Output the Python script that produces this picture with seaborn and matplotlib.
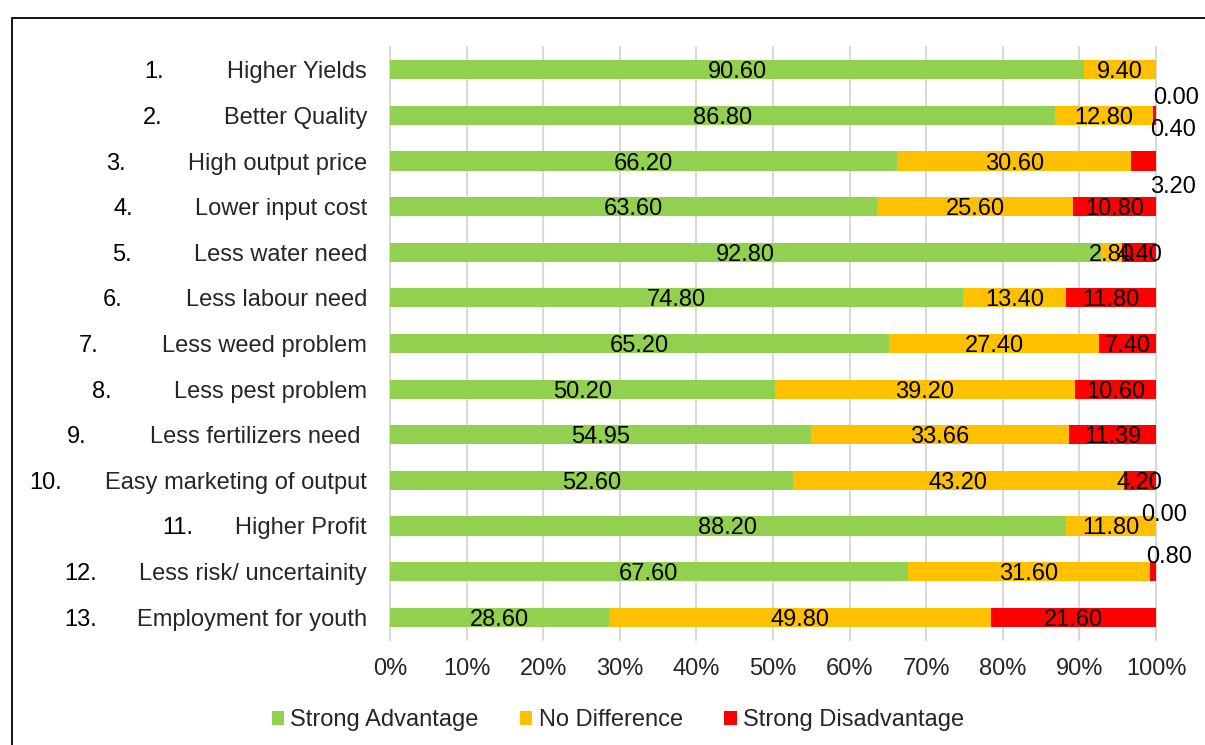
import numpy as np
import pandas as pd
import matplotlib
matplotlib.use("Agg")
import matplotlib.pyplot as plt
import matplotlib.transforms as mtransforms
from matplotlib.patches import Rectangle, Patch
import seaborn as sns

# ---------------- data ----------------
numbers = ["1.", "2.", "3.", "4.", "5.", "6.", "7.", "8.", "9.", "10.", "11.", "12.", "13."]
categories = ["Higher Yields", "Better Quality", "High output price", "Lower input cost",
              "Less water need", "Less labour need", "Less weed problem", "Less pest problem",
              "Less fertilizers need ", "Easy marketing of output", "Higher Profit",
              "Less risk/ uncertainity", "Employment for youth"]
strong_adv = [90.60, 86.80, 66.20, 63.60, 92.80, 74.80, 65.20, 50.20, 54.95, 52.60, 88.20, 67.60, 28.60]
no_diff = [9.40, 12.80, 30.60, 25.60, 2.80, 13.40, 27.40, 39.20, 33.66, 43.20, 11.80, 31.60, 49.80]
strong_dis = [0.00, 0.40, 3.20, 10.80, 4.40, 11.80, 7.40, 10.60, 11.39, 4.20, 0.00, 0.80, 21.60]
series_names = ["Strong Advantage", "No Difference", "Strong Disadvantage"]
tick_values = [0, 10, 20, 30, 40, 50, 60, 70, 80, 90, 100]
tick_labels = ["0%", "10%", "20%", "30%", "40%", "50%", "60%", "70%", "80%", "90%", "100%"]

# ---------------- layout / style ----------------
COLORS = ["#92D050", "#FFC000", "#FF0000"]
FS = 17
W, H = 1205, 745
NUM_RIGHT_PX = [164, 163, 126, 133, 132, 123, 99, 112, 87, 62, 193, 97, 97]
# offsets (px: dx right of 100%, dy down) for labels placed outside the bar
OUTSIDE = {0: (20.5, 26), 1: (17.5, 12.5), 2: (17, 23.6), 10: (8.5, -13), 11: (13.5, -17)}

sns.set_theme(style="white")
plt.rcParams['font.family'] = ['Liberation Sans', 'DejaVu Sans']

fig = plt.figure(figsize=(W / 100, H / 100), dpi=100)
ax = fig.add_axes([390 / W, 1 - 640 / H, (1156 - 390) / W, (640 - 47) / H])

df = pd.DataFrame({"cat": categories, "adv": strong_adv, "nd": no_diff, "dis": strong_dis})
df["c1"] = df["adv"]
df["c2"] = df["adv"] + df["nd"]
df["c3"] = df["adv"] + df["nd"] + df["dis"]

for col, color in zip(["c3", "c2", "c1"], COLORS[::-1]):
    sns.barplot(data=df, x=col, y="cat", order=categories, color=color, saturation=1,
                orient="h", width=0.42, ax=ax, errorbar=None, linewidth=0)

ax.set_xlim(0, 100)
ax.set_ylim(12.5, -0.5)
ax.set_xlabel("")
ax.set_ylabel("")
ax.set_xticks(tick_values)
ax.set_xticklabels(tick_labels, fontsize=FS)
ax.set_yticks(range(len(categories)))
ax.set_yticklabels(categories, fontsize=FS)
ax.tick_params(axis="x", length=0, pad=13)
ax.tick_params(axis="y", length=0, pad=16.5)
for s in ax.spines.values():
    s.set_visible(False)
ax.set_axisbelow(True)
ax.xaxis.grid(True, color="#D9D9D9", linewidth=1.5)
ax.yaxis.grid(False)
for gl in ax.xaxis.get_gridlines():
    gl.set_clip_on(False)

# item numbers
trans = mtransforms.blended_transform_factory(fig.transFigure, ax.transData)
for i, (num, xr) in enumerate(zip(numbers, NUM_RIGHT_PX)):
    ax.text(xr / W, i, num, transform=trans, ha="right", va="center_baseline",
            fontsize=FS, color="black")

# data labels
for i in range(len(categories)):
    vals = [strong_adv[i], no_diff[i], strong_dis[i]]
    left = 0.0
    for k, v in enumerate(vals):
        center = left + v / 2
        txt = f"{v:.2f}"
        if k == 2 and i in OUTSIDE:
            dx, dy = OUTSIDE[i]
            ax.annotate(txt, xy=(100, i), xytext=(dx * 0.72, -dy * 0.72),
                        textcoords="offset points", ha="center", va="center_baseline",
                        fontsize=FS, color="black", annotation_clip=False)
        else:
            ax.text(center, i, txt, ha="center", va="center_baseline", fontsize=FS, color="black")
        left += v

# legend
handles = [Patch(facecolor=c, edgecolor="none") for c in COLORS]
fig.legend(handles, series_names, loc="center", bbox_to_anchor=(618 / W, 1 - 720 / H),
           ncol=3, frameon=False, fontsize=FS, handlelength=0.52, handleheight=0.52,
           handletextpad=0.28, columnspacing=1.75, borderaxespad=0)

# outer border (right/bottom edges are cut off in the reference)
fig.patches.append(Rectangle((11.5 / W, -0.05), 1.2, 1 - 18 / H + 0.05, transform=fig.transFigure,
                             fill=False, edgecolor="black", linewidth=1.3, zorder=10))

fig.savefig("out.png", dpi=100)
